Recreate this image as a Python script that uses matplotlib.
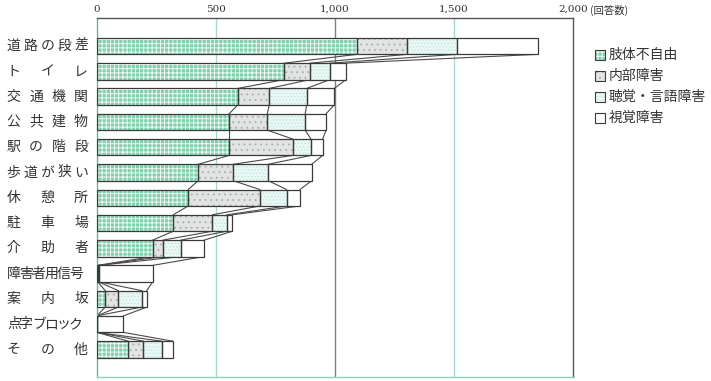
import matplotlib
matplotlib.use("Agg")
import matplotlib.pyplot as plt
from matplotlib.patches import Rectangle
import numpy as np

plt.rcParams['font.family'] = ['Noto Sans CJK JP', 'DejaVu Sans']
plt.rcParams['hatch.linewidth'] = 0.6

# data (回答数)
categories = ['道路の段差', 'トイレ', '交通機関', '公共建物', '駅の階段', '歩道が狭い',
              '休憩所', '駐車場', '介助者', '障害者用信号', '案内坂', '点字ブロック', 'その他']
limb = [1093, 787, 592, 556, 556, 426, 384, 321, 235, 4, 36, 0, 133]
internal = [210, 108, 132, 160, 266, 147, 301, 164, 44, 3, 55, 0, 63]
hearing = [208, 84, 157, 159, 77, 147, 112, 61, 75, 3, 98, 0, 77]
visual = [342, 67, 116, 88, 49, 182, 56, 23, 98, 225, 21, 112, 46]
series_names = ['肢体不自由', '内部障害', '聴覚・言語障害', '視覚障害']
xticks = [0, 500, 1000, 1500, 2000]
xtick_labels = ['0', '500', '1,000', '1,500', '2,000']

# fill, hatch colour, hatch
styles = [('#7fd1ad', 'white', '++++'),
          ('#e2e4e3', '#a9adab', '...'),
          ('#eaf8f5', '#bfe6e0', '.....'),
          ('white', 'white', None)]
edge = '#3a3a3a'

fig = plt.figure(figsize=(7.11, 3.81), dpi=100)
ax = fig.add_axes([96.7 / 711, 1 - 376.7 / 381, (573.3 - 96.7) / 711, (376.7 - 18.3) / 381])

series = np.array([limb, internal, hearing, visual], dtype=float)
cum = np.vstack([np.zeros(len(categories)), np.cumsum(series, axis=0)])
y = np.arange(len(categories))
h = 0.65

for k in range(4):
    fc, hc, hatch = styles[k]
    ax.barh(y, series[k], left=cum[k], height=h, color=fc, edgecolor=hc,
            linewidth=0, hatch=hatch, zorder=3)
    ax.barh(y, series[k], left=cum[k], height=h, fill=False, edgecolor=edge,
            linewidth=0.9, zorder=4)

# connecting lines between the boundaries of neighbouring bars
for i in range(len(categories) - 1):
    for k in range(1, 5):
        ax.plot([cum[k][i], cum[k][i + 1]], [y[i] + h / 2, y[i + 1] - h / 2],
                color='#4a4a4a', linewidth=0.8, zorder=2)

ax.set_xlim(0, 2000)
ax.set_ylim(len(categories) - 1 + 1.08, -1.1)
ax.axvline(500, color='#a6dcc6', linewidth=1.0, zorder=1)
ax.axvline(1500, color='#a6dcc6', linewidth=1.0, zorder=1)
ax.axvline(1000, color='#6f8a80', linewidth=1.0, zorder=1)

ax.xaxis.tick_top()
ax.set_xticks(xticks)
ax.set_xticklabels(xtick_labels, fontsize=7.5, color='#333333', family='DejaVu Serif')
ax.tick_params(axis='x', length=0, pad=3)
ax.set_yticks([])
ax.text(1.034, 1.006, '(回答数)', fontsize=7.5, color='#333333',
        ha='left', va='bottom', transform=ax.transAxes)

ax.spines['top'].set_color('#555555')
ax.spines['right'].set_color('#555555')
ax.spines['left'].set_color('#5fb894')
ax.spines['bottom'].set_color('#8fd3b5')
for s in ax.spines.values():
    s.set_linewidth(1.0)

# category labels, characters spread over a fixed width
for i, name in enumerate(categories):
    n = len(name)
    x0, x1 = (14, 76) if n >= 6 else (13.5, 81)
    xs = np.linspace(x0, x1, n) if n > 1 else [x0]
    yc = ax.transData.transform((0, y[i]))[1]
    for ch, xp in zip(name, xs):
        fig.text(xp / 711, yc / 381, ch, fontsize=10, color='#333333',
                 ha='center', va='center')

# legend drawn by hand
for k, name in enumerate(series_names):
    fc, hc, hatch = styles[k]
    yc = 381 - (55 + k * 21)
    fig.add_artist(Rectangle((595 / 711, (yc - 5) / 381), 10 / 711, 10 / 381,
                             transform=fig.transFigure, facecolor=fc, edgecolor=hc,
                             linewidth=0, hatch=hatch))
    fig.add_artist(Rectangle((595 / 711, (yc - 5) / 381), 10 / 711, 10 / 381,
                             transform=fig.transFigure, fill=False, edgecolor=edge,
                             linewidth=0.8))
    fig.text(609 / 711, yc / 381, name, fontsize=10, color='#333333',
             ha='left', va='center')

fig.savefig('out.png', dpi=100)
